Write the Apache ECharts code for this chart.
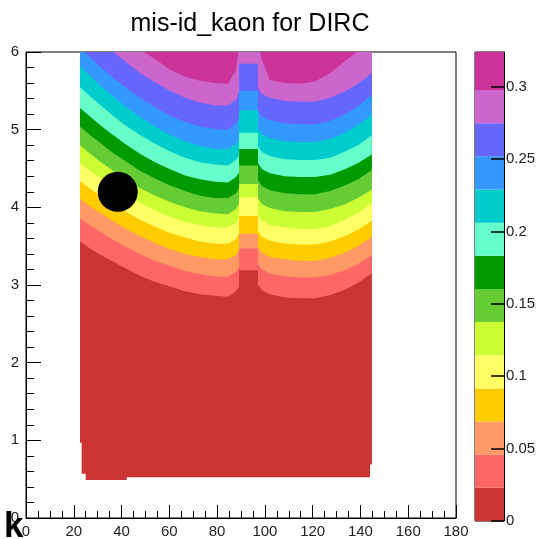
<!DOCTYPE html>
<html>
<head>
<meta charset="utf-8">
<script src="https://cdn.jsdelivr.net/npm/echarts@6/dist/echarts.min.js"></script>
<style>html,body{margin:0;padding:0;background:#fff}#c{width:543px;height:539px}</style>
</head>
<body>
<div id="c"></div>
<script>
// ---------- data ----------
const chartTitle = 'mis-id_kaon for DIRC';
const cornerLabel = 'k';

// contour fill colours, lowest level first
const bandColors = ['#cc3333','#ff6666','#ff9966','#ffcc00','#ffff66','#ccff33','#66cc33','#009900','#66ffcc','#00cccc','#3399ff','#6666ff','#cc66cc','#cc3399'];
// colour-scale level edges (z values)
const levels = [0, 0.0229, 0.0458, 0.0687, 0.0916, 0.1145, 0.1374, 0.1603, 0.1832, 0.2061, 0.229, 0.2519, 0.2748, 0.2977, 0.324];
const cbTicks = [0, 0.05, 0.1, 0.15, 0.2, 0.25, 0.3];

// x positions (theta, deg) where the contour boundaries were read
const xs = [22.6, 26.8, 31.0, 36.0, 41.4, 47.7, 54.0, 60.3, 66.6, 72.8, 79.1, 84.6, 87.9, 89.2, 89.2, 97.1, 97.1, 98.8, 102.1, 108.4, 114.7, 121.0, 127.3, 133.5, 139.0, 144.8];
// y (momentum) of each contour boundary, boundary k separates band k-1 and band k
const b1  = [3.56,3.47,3.39,3.31,3.22,3.12,3.04,2.98,2.92,2.88,2.86,2.85,2.92,2.98, 3.19,3.19, 3.01,2.93,2.88,2.84,2.83,2.83,2.87,2.94,3.03,3.15];
const b2  = [3.86,3.77,3.69,3.59,3.50,3.40,3.31,3.24,3.18,3.14,3.11,3.11,3.17,3.24, 3.47,3.47, 3.27,3.20,3.15,3.11,3.10,3.10,3.13,3.19,3.27,3.38];
const b3  = [4.11,4.01,3.93,3.83,3.73,3.63,3.54,3.46,3.40,3.36,3.33,3.33,3.39,3.45, 3.66,3.66, 3.49,3.42,3.36,3.33,3.31,3.31,3.35,3.42,3.50,3.62];
const b4  = [4.34,4.24,4.15,4.05,3.95,3.84,3.75,3.67,3.61,3.56,3.53,3.53,3.59,3.66, 3.89,3.89, 3.70,3.62,3.57,3.53,3.52,3.52,3.56,3.63,3.71,3.83];
const b5  = [4.57,4.47,4.38,4.27,4.17,4.06,3.96,3.88,3.81,3.77,3.74,3.74,3.80,3.86, 4.13,4.13, 3.90,3.83,3.77,3.74,3.72,3.72,3.76,3.84,3.93,4.06];
const b6  = [4.80,4.69,4.59,4.48,4.37,4.25,4.15,4.07,4.00,3.95,3.92,3.91,3.98,4.04, 4.30,4.30, 4.12,4.04,3.99,3.95,3.94,3.94,3.98,4.04,4.12,4.23];
const b7  = [5.04,4.93,4.83,4.71,4.60,4.47,4.37,4.28,4.21,4.15,4.12,4.12,4.18,4.25, 4.54,4.54, 4.35,4.27,4.22,4.18,4.17,4.17,4.21,4.28,4.36,4.48];
const b8  = [5.28,5.17,5.06,4.94,4.82,4.69,4.58,4.49,4.41,4.36,4.33,4.32,4.39,4.45, 4.75,4.75, 4.57,4.49,4.44,4.40,4.39,4.39,4.42,4.49,4.57,4.68];
const b9  = [5.55,5.43,5.32,5.19,5.06,4.93,4.82,4.72,4.64,4.58,4.55,4.54,4.61,4.67, 4.96,4.96, 4.78,4.71,4.66,4.62,4.61,4.61,4.64,4.72,4.80,4.93];
const b10 = [5.82,5.69,5.57,5.44,5.30,5.16,5.04,4.93,4.85,4.79,4.75,4.75,4.81,4.87, 5.25,5.25, 5.01,4.94,4.89,4.85,4.84,4.84,4.88,4.96,5.06,5.19];
const b11 = [6.05,5.93,5.81,5.68,5.55,5.41,5.29,5.18,5.10,5.04,5.01,5.00,5.08,5.16, 5.50,5.50, 5.25,5.17,5.12,5.08,5.07,5.07,5.11,5.20,5.30,5.45];
const b12 = [6.41,6.28,6.15,6.02,5.88,5.73,5.61,5.50,5.41,5.35,5.31,5.31,5.39,5.49, 5.85,5.85, 5.54,5.46,5.41,5.37,5.36,5.36,5.41,5.49,5.59,5.73];
const b13 = [6.66,6.54,6.41,6.28,6.15,6.03,5.91,5.77,5.68,5.63,5.60,5.59,5.77,6.09, 6.30,6.30, 6.09,5.90,5.64,5.60,5.59,5.62,5.73,5.88,6.01,6.15];
// lower edge of the filled region
const bottomX = [22.6, 23.3, 23.3, 25.0, 25.0, 42.2, 42.2, 144.0, 144.0, 144.8];
const bottomY = [0.97, 0.97, 0.57, 0.57, 0.49, 0.49, 0.525, 0.525, 0.69, 0.69];
const topY = 6;
// marker point
const marker = [[38.4, 4.2]];

// ---------- chart ----------
const bounds = [b1,b2,b3,b4,b5,b6,b7,b8,b9,b10,b11,b12,b13];
const FONT = 'Liberation Sans, Arial, sans-serif';
const chart = echarts.init(document.getElementById('c'), null, {renderer:'canvas'});

function renderBand(params, api) {
  const i = params.dataIndex;
  const lx = i === 0 ? bottomX : xs;
  const ly = i === 0 ? bottomY : bounds[i - 1];
  const pts = lx.map((x, j) => api.coord([x, ly[j]]));
  pts.push(api.coord([lx[lx.length - 1], topY]));
  pts.push(api.coord([lx[0], topY]));
  return {type:'polygon', shape:{points:pts}, style:{fill:bandColors[i], stroke:null}};
}
function renderCb(params, api) {
  const i = params.dataIndex;
  const p0 = api.coord([0, levels[i + 1]]);
  const p1 = api.coord([1, levels[i]]);
  return {type:'rect', shape:{x:p0[0], y:p0[1], width:p1[0]-p0[0], height:p1[1]-p0[1]}, style:{fill:bandColors[i]}};
}

const lbl = {color:'#222', fontFamily:FONT, fontSize:15};
chart.setOption({
  animation:false,
  backgroundColor:'#fff',
  graphic:[
    {type:'text', x:250, y:24, style:{text:chartTitle, font:'25px ' + FONT, fill:'#000', textAlign:'center', textVerticalAlign:'middle'}},
    {type:'text', x:4, y:527, z:100, style:{text:cornerLabel, font:'bold 35px ' + FONT, fill:'#000', textAlign:'left', textVerticalAlign:'middle'}}
  ],
  grid:[
    {left:26, top:52, width:430, height:469, show:true, borderColor:'#000', borderWidth:1, backgroundColor:'transparent'},
    {left:475, top:52, width:29, height:469, show:true, borderColor:'#000', borderWidth:1, backgroundColor:'transparent'}
  ],
  xAxis:[
    {type:'value', gridIndex:0, min:0, max:180, interval:20,
     axisLine:{show:true, lineStyle:{color:'#000', width:1}},
     axisTick:{show:true, inside:true, length:13, lineStyle:{color:'#000'}},
     minorTick:{show:true, splitNumber:4, length:7, lineStyle:{color:'#000'}},
     splitLine:{show:false}, minorSplitLine:{show:false},
     axisLabel:Object.assign({margin:6}, lbl)},
    {type:'value', gridIndex:1, min:0, max:1, show:false}
  ],
  yAxis:[
    {type:'value', gridIndex:0, min:0, max:6, interval:1,
     axisLine:{show:true, lineStyle:{color:'#000', width:1}},
     axisTick:{show:true, inside:true, length:15, lineStyle:{color:'#000'}},
     minorTick:{show:true, splitNumber:5, length:8, lineStyle:{color:'#000'}},
     splitLine:{show:false}, minorSplitLine:{show:false},
     axisLabel:Object.assign({margin:7}, lbl)},
    {type:'value', gridIndex:1, position:'right', min:0, max:levels[levels.length-1], z:10,
     axisLine:{show:true, onZero:false, lineStyle:{color:'#000'}},
     axisTick:{show:true, inside:true, length:13, lineStyle:{color:'#000', width:1.5}, customValues:cbTicks},
     splitLine:{show:false},
     axisLabel:Object.assign({margin:2, customValues:cbTicks}, lbl)}
  ],
  series:[
    {type:'custom', xAxisIndex:0, yAxisIndex:0, clip:true, z:2,
     renderItem:renderBand, data:bandColors.map((c, i) => [i])},
    {type:'scatter', xAxisIndex:0, yAxisIndex:0, z:4, symbol:'circle', symbolSize:40,
     itemStyle:{color:'#000', opacity:1}, emphasis:{disabled:true}, data:marker},
    {type:'custom', xAxisIndex:1, yAxisIndex:1, z:1,
     renderItem:renderCb, data:bandColors.map((c, i) => [i])}
  ]
});
</script>
</body>
</html>
